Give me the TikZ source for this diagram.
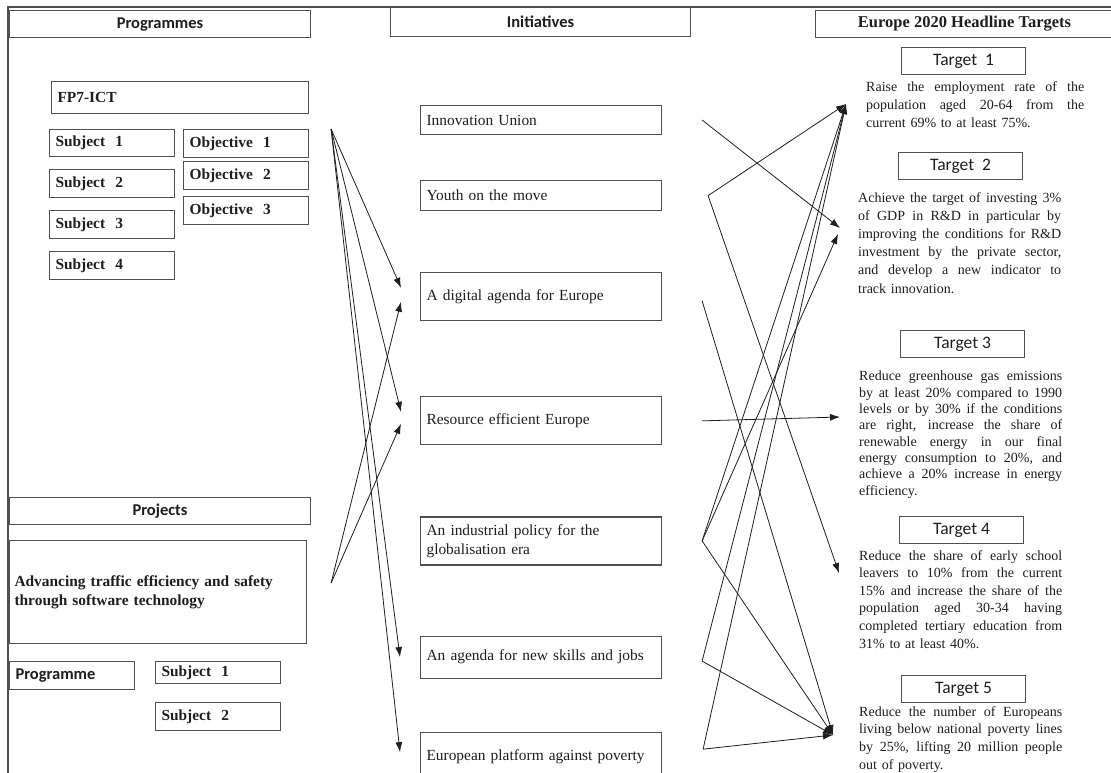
\documentclass[tikz,border=0pt]{standalone}
\usepackage{fontspec}
\setmainfont{Liberation Serif}
\newfontfamily\calibfont{Carlito}
\usetikzlibrary{positioning,arrows.meta}

\definecolor{boxline}{HTML}{505050}
\definecolor{ink}{HTML}{1E1E1E}

% one justified line of a target text
\newlength{\tgtw}
\setlength{\tgtw}{203pt}
\newcommand{\jl}[1]{\hbox to \tgtw{\spaceskip=0.25em plus 1fil\relax #1}\par}

\tikzset{
  hdr/.style={draw=boxline,line width=1.1pt,anchor=north west,inner sep=0pt,
    minimum height=27pt,text=ink,font=\calibfont\bfseries\fontsize{16.5}{19}\selectfont},
  lbox/.style={draw=boxline,line width=1.1pt,anchor=north west,inner xsep=6pt,
    inner ysep=0pt,align=left,text=ink},
  bold/.style={font=\bfseries\fontsize{15.4}{19}\selectfont},
  plain/.style={font=\fontsize{15.4}{19}\selectfont},
  subbox/.style={lbox,bold,text width=113pt,minimum height=28pt},
  inibox/.style={lbox,plain,text width=229pt},
  tbox/.style={draw=boxline,line width=1.1pt,anchor=north west,inner sep=0pt,
    minimum width=124pt,minimum height=27pt,text=ink,
    font=\calibfont\fontsize{17.5}{20}\selectfont},
  ttext/.style={anchor=north west,inner sep=0pt,text width=203pt,text=ink},
}

\begin{document}
\begin{tikzpicture}[x=1pt,y=-1pt,>={Latex[length=10pt,width=7pt]},
    conn/.style={draw=ink,line width=0.8pt,->}]
\useasboundingbox (0,0) rectangle (1111,773);
\fill[white] (0,0) rectangle (1111,773);
\draw[boxline,line width=1.1pt] (8,773) -- (8,7) -- (1111,7);

% Programmes column
\node[hdr,minimum width=301pt] (proghdr) at (9,10) {Programmes};
\node[lbox,bold,text width=245pt,minimum height=32pt] (fp7) at (51,81) {FP7-ICT};
\node[subbox,minimum height=27pt] (sub1) at (49,129) {Subject~ 1};
\node[subbox,below=12pt of sub1] (sub2) {Subject~ 2};
\node[subbox,below=12pt of sub2] (sub3) {Subject~ 3};
\node[subbox,below=12pt of sub3] (sub4) {Subject~ 4};
\node[subbox] (obj1) at (183,129) {Objective~ 1};
\node[subbox,below=3pt of obj1] (obj2) {Objective~ 2};
\node[subbox,below=6pt of obj2] (obj3) {Objective~ 3};

% Projects
\node[hdr,minimum width=301pt] (prjhdr) at (9,497) {Projects};
\node[lbox,bold,text width=287pt,minimum height=103pt,inner xsep=5pt] (prj) at (9,540)
  {Advancing traffic efficiency and safety\\through software technology};
\node[lbox,text width=113pt,minimum height=28pt,
  font=\calibfont\bfseries\fontsize{16.5}{19}\selectfont] (prgm) at (9,661) {Programme};
\node[subbox,minimum height=22pt] (psub1) at (155,661) {Subject~ 1};
\node[subbox,below=18pt of psub1] (psub2) {Subject~ 2};

% Initiatives column
\node[hdr,minimum width=300pt,minimum height=29pt] (inihdr) at (390,7) {Initiatives};
\node[inibox,minimum height=29pt] (iu) at (420,105) {Innovation Union};
\node[inibox,minimum height=30pt,below=45pt of iu] (yo) {Youth on the move};
\node[inibox,minimum height=48pt,below=61pt of yo] (da) {A digital agenda for Europe};
\node[inibox,minimum height=48pt,below=75pt of da] (re) {Resource efficient Europe};
\node[inibox,minimum height=48pt,below=71pt of re] (ip)
  {An industrial policy for the\\globalisation era};
\node[inibox,minimum height=42pt,below=70pt of ip] (ns) {An agenda for new skills and jobs};
\node[inibox,minimum height=50pt,below=53pt of ns] (ep) {European platform against poverty};

% Europe 2020 targets column
\node[hdr,minimum width=298pt,font=\bfseries\fontsize{16.5}{19}\selectfont]
  (tgthdr) at (815,10) {Europe 2020 Headline Targets};
\node[tbox] (t1) at (901,47) {Target~ 1};
\node[ttext,text width=218pt,font=\fontsize{14}{18}\selectfont] (tx1) at (866,81)
  {\setlength{\tgtw}{218pt}%
   \jl{Raise the employment rate of the}\jl{population aged 20-64 from the}%
   current 69\% to at least 75\%.};
\node[tbox] (t2) at (898,152) {Target~ 2};
\node[ttext,font=\fontsize{14}{18.2}\selectfont] (tx2) at (858,192)
  {\jl{Achieve the target of investing 3\%}\jl{of GDP in R\&D in particular by}%
   \jl{improving the conditions for R\&D}\jl{investment by the private sector,}%
   \jl{and develop a new indicator to}track innovation.};
\node[tbox] (t3) at (900,330) {Target 3};
\node[ttext,font=\fontsize{14}{16.3}\selectfont] (tx3) at (859,371)
  {\jl{Reduce greenhouse gas emissions}\jl{by at least 20\% compared to 1990}%
   \jl{levels or by 30\% if the conditions}\jl{are right, increase the share of}%
   \jl{renewable energy in our final}\jl{energy consumption to 20\%, and}%
   \jl{achieve a 20\% increase in energy}efficiency.};
\node[tbox] (t4) at (899,516) {Target 4};
\node[ttext,font=\fontsize{14}{17.6}\selectfont] (tx4) at (859,550)
  {\jl{Reduce the share of early school}\jl{leavers to 10\% from the current}%
   \jl{15\% and increase the share of the}\jl{population aged 30-34 having}%
   \jl{completed tertiary education from}31\% to at least 40\%.};
\node[tbox] (t5) at (901,675) {Target 5};
\node[ttext,font=\fontsize{14}{17.7}\selectfont] (tx5) at (859,706)
  {\jl{Reduce the number of Europeans}\jl{living below national poverty lines}%
   \jl{by 25\%, lifting 20 million people}out of poverty.};

% free ends of the connectors
\coordinate (fpsrc) at ([xshift=22pt]obj1.north east);
\coordinate (prjsrc) at ([xshift=24pt,yshift=9pt]prj.east);
\coordinate (iuR) at ([xshift=40pt]iu.east);
\coordinate (yoR) at ([xshift=46pt]yo.east);
\coordinate (daR) at ([xshift=40pt,yshift=-4pt]da.east);
\coordinate (reR) at ([xshift=40pt]re.east);
\coordinate (ipR) at ([xshift=40pt]ip.east);
\coordinate (nsR) at ([xshift=40pt,yshift=-4pt]ns.east);
\coordinate (epR) at ([xshift=41pt,yshift=8pt]ep.east);
\coordinate (t1in) at (846,104);
\coordinate (t2a) at (840,228);
\coordinate (t2b) at (838,234);
\coordinate (t3in) at (840,417);
\coordinate (t4in) at (839,573);
\coordinate (t5in) at (833,735);

% programmes and projects to initiatives
\draw[conn] (fpsrc) -- ([xshift=-19pt,yshift=9pt]da.west);
\draw[conn] (fpsrc) -- ([xshift=-19pt,yshift=9pt]re.west);
\draw[conn] (fpsrc) -- ([xshift=-20pt]ns.west);
\draw[conn] (fpsrc) -- ([xshift=-20pt,yshift=5pt]ep.west);
\draw[conn] (prjsrc) -- ([xshift=-19pt,yshift=-5pt]da.west);
\draw[conn] (prjsrc) -- ([xshift=-19pt,yshift=-3pt]re.west);

% initiatives to targets
\draw[conn] (iuR) -- (t2a);
\draw[conn] (yoR) -- (t1in);
\draw[conn] (yoR) -- (t4in);
\draw[conn] (daR) -- (t5in);
\draw[conn] (reR) -- (t3in);
\draw[conn] (ipR) -- (t1in);
\draw[conn] (ipR) -- (t2b);
\draw[conn] (ipR) -- (t5in);
\draw[conn] (nsR) -- (t1in);
\draw[conn] (nsR) -- (t5in);
\draw[conn] (epR) -- (t1in);
\draw[conn] (epR) -- (t5in);
\end{tikzpicture}
\end{document}
